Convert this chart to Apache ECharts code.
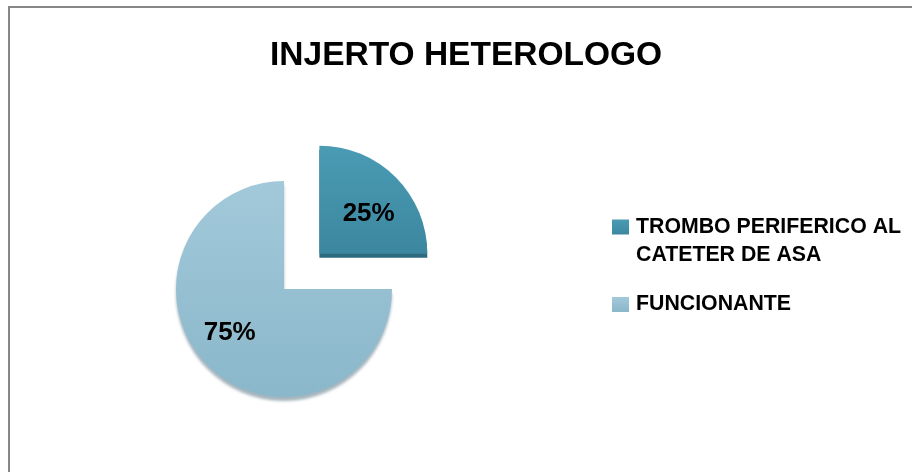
<!DOCTYPE html>
<html>
<head>
<meta charset="utf-8">
<script src="https://cdn.jsdelivr.net/npm/echarts@6/dist/echarts.min.js"></script>
<style>
html,body{margin:0;padding:0;background:#fff;}
#c{width:912px;height:472px;}
</style>
</head>
<body>
<div id="c"></div>
<script>
const titleText = 'INJERTO HETEROLOGO';
const categories = ['TROMBO PERIFERICO AL CATETER DE ASA', 'FUNCIONANTE'];
const values = [25, 75];

const FONT = '"Liberation Sans", Arial, sans-serif';

function wrapName(name, maxChars) {
  const words = name.split(' ');
  const lines = [];
  let cur = '';
  words.forEach(w => {
    const t = cur ? cur + ' ' + w : w;
    if (t.length > maxChars && cur) { lines.push(cur); cur = w; } else { cur = t; }
  });
  if (cur) lines.push(cur);
  return lines;
}

const sliceStyles = [
  {
    color: new echarts.graphic.LinearGradient(0, 0, 0, 1, [
      {offset: 0, color: '#4A9BB4'}, {offset: 1, color: '#3C879F'}
    ]),
    shadowColor: '#2C6A80', shadowOffsetY: 4, shadowOffsetX: 0, shadowBlur: 0
  },
  {
    color: new echarts.graphic.LinearGradient(0, 0, 0, 1, [
      {offset: 0, color: '#A2C9DA'}, {offset: 1, color: '#8AB7CA'}
    ]),
    shadowColor: 'rgba(90,120,135,0.55)', shadowOffsetY: 4, shadowOffsetX: 0, shadowBlur: 3
  }
];

// small label nudges (Excel places inside labels farther out than ECharts)
const labelNudge = [[9, 0], [-14, 4]];

const chart = echarts.init(document.getElementById('c'), null, {renderer: 'canvas'});
chart.setOption({
  backgroundColor: '#ffffff',
  animation: false,
  title: {
    text: titleText,
    left: 265,
    top: 34,
    textStyle: {fontFamily: FONT, fontWeight: 'bold', fontSize: 33.5, color: '#000'}
  },
  graphic: [{
    type: 'rect',
    shape: {x: 9, y: 7, width: 930, height: 500},
    style: {fill: 'none', stroke: '#878787', lineWidth: 2},
    silent: true
  }],
  legend: {
    orient: 'vertical',
    left: 607,
    top: 183,
    itemWidth: 17,
    itemHeight: 15,
    itemGap: 28,
    icon: 'rect',
    data: categories,
    formatter: function (name) {
      const lines = wrapName(name, 20);
      if (lines.length > 1) {
        return '{e|\u00a0}\n' + lines.map(l => '{a|' + l + '}').join('\n');
      }
      return '{a|' + name + '}';
    },
    textStyle: {
      padding: [0, 0, 0, 2],
      rich: {
        a: {fontFamily: FONT, fontWeight: 'bold', fontSize: 21.3, color: '#000', lineHeight: 28.5},
        e: {fontSize: 21, lineHeight: 28.5}
      }
    }
  },
  series: [{
    type: 'pie',
    center: [284, 289],
    radius: 108,
    startAngle: 90,
    clockwise: true,
    selectedMode: 'single',
    selectedOffset: 50,
    label: {
      position: 'inside',
      formatter: '{d}%',
      fontFamily: FONT, fontWeight: 'bold', fontSize: 26, color: '#000'
    },
    labelLayout: function (p) {
      const n = labelNudge[p.dataIndex] || [0, 0];
      return {dx: n[0], dy: n[1]};
    },
    labelLine: {show: false},
    emphasis: {disabled: true},
    data: categories.map((n, i) => ({
      name: n,
      value: values[i],
      selected: i === 0,
      itemStyle: sliceStyles[i]
    }))
  }]
});
</script>
</body>
</html>
